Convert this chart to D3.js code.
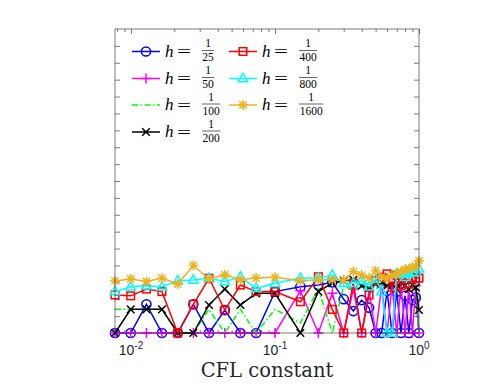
<!DOCTYPE html>
<html>
<head>
<meta charset="utf-8">
<script src="https://cdn.jsdelivr.net/npm/d3@7"></script>
<style>
  body { margin: 0; background: #fff; }
</style>
</head>
<body>
<svg id="chart" width="499" height="387"></svg>
<script>
// CFL values (x axis)
const cfl = [0.00774, 0.00995, 0.0128, 0.0164, 0.0211, 0.0271, 0.0348, 0.0448, 0.0575, 0.0739,
             0.1, 0.15, 0.2, 0.25, 0.3, 0.35, 0.4, 0.45, 0.5, 0.55, 0.6, 0.65, 0.7, 0.75, 0.8, 0.85, 0.9, 0.95, 1.0];

// one series per mesh size h = 1/N
const h25   = [0, 0, 1.7, 0, 0, 1.7, 0, 1.36, 0, 0, 2.45, 2.74, 2.84, 3.0, 2.0, 1.3, 1.95, 1.5, 0, 0, 2.5, 0, 2.45, 0, 2.2, 0, 1.95, 2.1, 0];
const h50   = [0, 0, 0, 0, 0, 0, 0, 0, 0, 0, 0, 2.5, 0, 2.35, 0, 2.6, 0, 2.5, 0, 2.7, 0, 2.8, 0, 2.9, 0, 2.7, 0, 2.8, 0];
const h100  = [1.4, 1.4, 1.4, 1.4, 0, 0, 1.4, 0, 1.4, 0, 1.4, 0.6, 2.6, 0, 2.8, 2.5, 2.7, 2.9, 2.6, 2.8, 2.9, 2.8, 2.7, 3.0, 2.9, 2.8, 2.6, 2.8, 0];
const h200  = [0, 1.4, 1.4, 1.4, 0, 0, 1.66, 2.6, 1.66, 2.35, 2.35, 0, 2.45, 2.95, 3.1, 3.15, 2.8, 2.7, 2.9, 3.0, 2.8, 2.9, 2.6, 3.0, 2.8, 2.6, 2.85, 2.7, 1.36];
const h400  = [2.25, 2.2, 2.6, 2.45, 0, 1.7, 3.24, 1.36, 2.84, 2.45, 2.45, 1.85, 3.33, 1.4, 0, 2.96, 0, 2.25, 3.1, 3.3, 3.5, 2.7, 3.4, 2.8, 3.35, 2.9, 3.3, 3.25, 3.25];
const h800  = [2.45, 2.74, 2.8, 2.74, 3.1, 3.14, 3.25, 3.04, 3.33, 2.64, 2.94, 3.25, 3.25, 3.43, 2.94, 2.94, 3.1, 2.74, 3.2, 2.45, 0, 0, 3.5, 3.5, 3.3, 3.5, 3.6, 3.6, 3.8];
const h1600 = [3.08, 3.2, 3.05, 3.25, 2.9, 4.0, 3.2, 3.45, 3.15, 3.25, 3.3, 3.1, 3.15, 3.15, 3.15, 3.63, 3.43, 3.25, 3.69, 3.33, 3.25, 3.43, 3.53, 3.63, 3.77, 3.8, 3.9, 3.95, 4.28];

const denoms  = ["25", "50", "100", "200", "400", "800", "1600"];
const values  = [h25, h50, h100, h200, h400, h800, h1600];
const colors  = ["#0000ff", "#ff00ff", "#00ff00", "#000000", "#ff0000", "#00ffff", "#edb120"];
const markers = ["circle", "plus", "none", "cross", "square", "triangle", "star"];
const xMajor  = [0.01, 0.1, 1];
const xLabels = ["-2", "-1", "0"];

let svg = d3.select("#chart"),
    mLeft = 115, mRight = 419, mTop = 29, mBottom = 333;

let x = d3.scaleLog().domain([cfl[0], 1]).range([mLeft, mRight]);
let y = d3.scaleLinear().domain([0, 18]).range([mBottom, mTop]);

const axisColor = "#262626";

// minor log ticks
let xMinor = [];
[0.001, 0.01, 0.1].forEach(function(d) {
    for (let k = 2; k <= 9; k++) {
        let v = d * k;
        if (v >= cfl[0] && v <= 1) xMinor.push(v);
    }
});

function drawTicks(g, axis) {
    g.call(axis);
    g.select(".domain").remove();
    g.selectAll("line").attr("stroke", axisColor).attr("stroke-width", 0.6);
}

// x ticks bottom + top (inside)
svg.append("g").attr("transform", "translate(0," + mBottom + ")")
    .call(drawTicks, d3.axisBottom(x).tickValues(xMinor).tickSize(-3).tickFormat(""));
svg.append("g").attr("transform", "translate(0," + mBottom + ")")
    .call(drawTicks, d3.axisBottom(x).tickValues(xMajor).tickSize(-5).tickFormat(""));
svg.append("g").attr("transform", "translate(0," + mTop + ")")
    .call(drawTicks, d3.axisTop(x).tickValues(xMinor).tickSize(-3).tickFormat(""));
svg.append("g").attr("transform", "translate(0," + mTop + ")")
    .call(drawTicks, d3.axisTop(x).tickValues(xMajor).tickSize(-5).tickFormat(""));

// y ticks left + right (no labels)
let yTicks = d3.range(1, 18);
svg.append("g").attr("transform", "translate(" + mLeft + ",0)")
    .call(drawTicks, d3.axisLeft(y).tickValues(yTicks).tickSize(-5).tickFormat(""));
svg.append("g").attr("transform", "translate(" + mRight + ",0)")
    .call(drawTicks, d3.axisRight(y).tickValues(yTicks).tickSize(-5).tickFormat(""));

// x tick labels 10^k
let labels = svg.append("g")
    .attr("font-family", "'Liberation Sans', Arial, sans-serif")
    .attr("fill", axisColor);
xMajor.forEach(function(v, i) {
    let t = labels.append("text")
        .attr("x", x(v))
        .attr("y", 355)
        .attr("text-anchor", "middle")
        .attr("font-size", 14);
    t.append("tspan").text("10");
    t.append("tspan").attr("dy", -6.5).attr("font-size", 10).text(xLabels[i]);
});

// x axis title
svg.append("text")
    .attr("x", 267)
    .attr("y", 377)
    .attr("text-anchor", "middle")
    .attr("font-family", "'DejaVu Serif', 'Liberation Serif', serif")
    .attr("font-size", 19.5)
    .attr("fill", axisColor)
    .text("CFL constant");

// markers
function drawMarker(g, type, color, cx, cy) {
    let s = g.append("g").attr("transform", "translate(" + cx + "," + cy + ")")
        .attr("stroke", color).attr("stroke-width", 1.5).attr("fill", "none");
    if (type === "circle") {
        s.append("circle").attr("r", 4.6);
    } else if (type === "plus") {
        s.append("path").attr("d", "M-5,0H5M0,-5V5");
    } else if (type === "cross") {
        s.append("path").attr("d", "M-3.8,-3.8L3.8,3.8M-3.8,3.8L3.8,-3.8");
    } else if (type === "square") {
        s.append("rect").attr("x", -3.8).attr("y", -3.8).attr("width", 7.6).attr("height", 7.6);
    } else if (type === "triangle") {
        s.append("path").attr("d", "M0,-5.2L4.8,3.2L-4.8,3.2Z");
    } else if (type === "star") {
        s.append("path").attr("d", "M-5,0H5M0,-5V5M-3.6,-3.6L3.6,3.6M-3.6,3.6L3.6,-3.6");
    }
}

let line = d3.line()
    .x(function(d) { return x(d[0]); })
    .y(function(d) { return y(d[1]); });

let plot = svg.append("g");
values.forEach(function(vals, i) {
    let pts = cfl.map(function(c, j) { return [c, vals[j]]; });
    plot.append("path")
        .datum(pts)
        .attr("d", line)
        .attr("fill", "none")
        .attr("stroke", colors[i])
        .attr("stroke-width", 1.5)
        .attr("stroke-dasharray", markers[i] === "none" ? "6,2.5,1.5,2.5" : null);
    pts.forEach(function(p) {
        drawMarker(plot, markers[i], colors[i], x(p[0]), y(p[1]));
    });
});

// box
svg.append("rect")
    .attr("x", mLeft).attr("y", mTop)
    .attr("width", mRight - mLeft).attr("height", mBottom - mTop)
    .attr("fill", "none")
    .attr("stroke", axisColor)
    .attr("stroke-width", 0.6);

// legend
const legX = [132, 229];
const legY = [51.5, 78.5, 105, 132];
let legend = svg.append("g");
denoms.forEach(function(dn, i) {
    let lx = legX[i < 4 ? 0 : 1], ly = legY[i < 4 ? i : i - 4];
    legend.append("line")
        .attr("x1", lx).attr("x2", lx + 28)
        .attr("y1", ly).attr("y2", ly)
        .attr("stroke", colors[i])
        .attr("stroke-width", 1.5)
        .attr("stroke-dasharray", markers[i] === "none" ? "6,2.5,1.5,2.5" : null);
    drawMarker(legend, markers[i], colors[i], lx + 14, ly);

    let tg = legend.append("g")
        .attr("font-family", "'Liberation Serif', 'DejaVu Serif', serif")
        .attr("fill", "#000");
    tg.append("text").attr("x", lx + 33).attr("y", ly + 5)
        .attr("font-size", 17).attr("font-style", "italic").text("h");
    tg.append("text").attr("x", lx + 45).attr("y", ly + 5.5)
        .attr("font-size", 17).attr("textLength", 14).attr("lengthAdjust", "spacingAndGlyphs").text("=");
    let w = dn.length * 6.1;
    let fx = lx + 70 + w / 2;
    tg.append("text").attr("x", fx).attr("y", ly - 4.5)
        .attr("text-anchor", "middle").attr("font-size", 11.5).text("1");
    tg.append("line")
        .attr("x1", lx + 70).attr("x2", lx + 70 + w)
        .attr("y1", ly - 1).attr("y2", ly - 1)
        .attr("stroke", "#000").attr("stroke-width", 0.6);
    tg.append("text").attr("x", fx).attr("y", ly + 9.5)
        .attr("text-anchor", "middle").attr("font-size", 11.5).text(dn);
});
</script>
</body>
</html>
